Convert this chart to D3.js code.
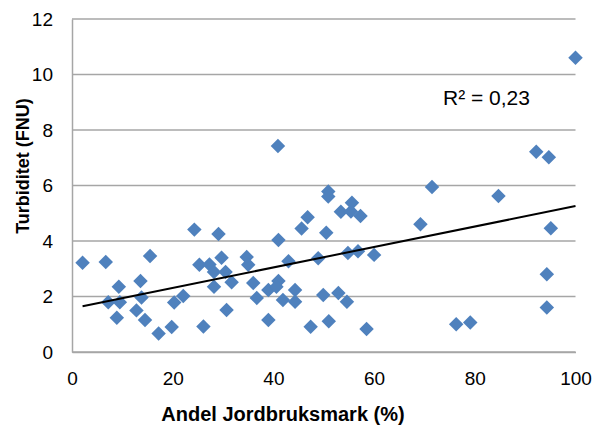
<!DOCTYPE html>
<html>
<head>
<meta charset="utf-8">
<script src="https://cdn.jsdelivr.net/npm/d3@7"></script>
<style>
  html, body { margin: 0; padding: 0; background: #fff; }
  svg { display: block; font-family: "Liberation Sans", Arial, sans-serif; }
</style>
</head>
<body>
<svg id="chart" width="593" height="430"></svg>
<script>
// Share of agricultural land (%) per catchment
const andelJordbruk = [
  2.1, 6.7, 15.5, 7.2, 9.5, 9.3, 8.9, 12.8, 13.6, 13.8,
  14.5, 17.2, 19.8, 20.3, 22.1, 24.3, 25.3, 26.1, 27.3, 28.2,
  28.2, 29.1, 29.7, 30.5, 30.7, 31.7, 34.7, 35.0, 36.0, 36.7,
  39.0, 39.0, 40.9, 41.0, 41.0, 40.6, 41.9, 43.0, 44.3, 44.3,
  45.6, 46.8, 47.4, 48.9, 49.9, 50.5, 50.9, 50.9, 51.0, 52.9,
  53.4, 55.4, 55.6, 54.6, 54.8, 56.8, 57.3, 58.5, 60.0, 69.2,
  71.5, 76.3, 79.1, 84.7, 92.2, 94.7, 95.1, 94.3, 94.3, 100.0
];
// Turbidity (FNU) for the same catchments
const turbiditet = [
  3.22, 3.24, 3.46, 1.79, 1.79, 2.35, 1.23, 1.50, 2.56, 1.96,
  1.15, 0.67, 0.90, 1.78, 2.02, 4.41, 3.14, 0.92, 3.15, 2.35,
  2.88, 4.25, 3.40, 2.88, 1.51, 2.51, 3.42, 3.14, 2.49, 1.95,
  1.15, 2.23, 7.42, 4.04, 2.56, 2.35, 1.87, 3.27, 2.23, 1.81,
  4.45, 4.86, 0.91, 3.38, 2.05, 4.30, 5.78, 5.60, 1.11, 2.13,
  5.05, 5.06, 5.38, 1.81, 3.57, 3.63, 4.90, 0.83, 3.50, 4.60,
  5.95, 1.00, 1.06, 5.62, 7.22, 7.02, 4.46, 2.80, 1.60, 10.60
];
const xTicks = [0, 20, 40, 60, 80, 100];
const yTicks = [0, 2, 4, 6, 8, 10, 12];
const r2Label = "R² = 0,23";

const svg = d3.select("#chart");
const margin = { left: 72, right: 18, top: 19, bottom: 78 };
const W = 593, H = 430;

const x = d3.scaleLinear().domain([0, 100]).range([margin.left, W - margin.right + 0.5]);
const y = d3.scaleLinear().domain([0, 12]).range([H - margin.bottom, margin.top]);

const gridColor = "#a6a6a6";

// horizontal gridlines
svg.append("g")
  .selectAll("line")
  .data(yTicks)
  .join("line")
  .attr("x1", x(0)).attr("x2", x(100))
  .attr("y1", d => y(d)).attr("y2", d => y(d))
  .attr("stroke", gridColor).attr("stroke-width", 1.5);

// y axis
const yAxis = svg.append("g")
  .attr("transform", `translate(${x(0)},0)`)
  .call(d3.axisLeft(y).tickValues(yTicks).tickSize(0).tickPadding(19).tickFormat(d3.format("d")));
yAxis.select(".domain").attr("stroke", gridColor).attr("stroke-width", 1.5);
yAxis.selectAll("text").attr("font-size", 19).attr("fill", "#000").attr("font-family", "Liberation Sans, Arial, sans-serif");

// x axis
const xAxis = svg.append("g")
  .attr("transform", `translate(0,${y(0)})`)
  .call(d3.axisBottom(x).tickValues(xTicks).tickSize(0).tickPadding(20).tickFormat(d3.format("d")));
xAxis.select(".domain").attr("stroke", gridColor).attr("stroke-width", 1.5);
xAxis.selectAll("text").attr("font-size", 19).attr("fill", "#000").attr("font-family", "Liberation Sans, Arial, sans-serif");

// axis titles
svg.append("text")
  .attr("x", 283).attr("y", 421)
  .attr("text-anchor", "middle")
  .attr("font-size", 20).attr("font-weight", "bold")
  .text("Andel Jordbruksmark (%)");

svg.append("text")
  .attr("transform", "translate(29,166) rotate(-90)")
  .attr("text-anchor", "middle")
  .attr("font-size", 18).attr("font-weight", "bold")
  .text("Turbiditet (FNU)");

// data points as diamonds
const pts = andelJordbruk.map((v, i) => ({ x: v, y: turbiditet[i] }));
const diamond = d3.symbol().type(d3.symbolSquare).size(105);
svg.append("g")
  .selectAll("path")
  .data(pts)
  .join("path")
  .attr("d", diamond)
  .attr("transform", d => `translate(${x(d.x)},${y(d.y)}) rotate(45)`)
  .attr("fill", "#4f81bd");

// least-squares linear trend line
const mx = d3.mean(pts, d => d.x), my = d3.mean(pts, d => d.y);
const sxy = d3.sum(pts, d => (d.x - mx) * (d.y - my));
const sxx = d3.sum(pts, d => (d.x - mx) ** 2);
const slope = sxy / sxx, intercept = my - slope * mx;
const [xmin, xmax] = d3.extent(andelJordbruk);
svg.append("line")
  .attr("x1", x(xmin)).attr("y1", y(intercept + slope * xmin))
  .attr("x2", x(xmax)).attr("y2", y(intercept + slope * xmax))
  .attr("stroke", "#000").attr("stroke-width", 2);

svg.append("text")
  .attr("x", 443).attr("y", 105)
  .attr("font-size", 21)
  .text(r2Label);
</script>
</body>
</html>
